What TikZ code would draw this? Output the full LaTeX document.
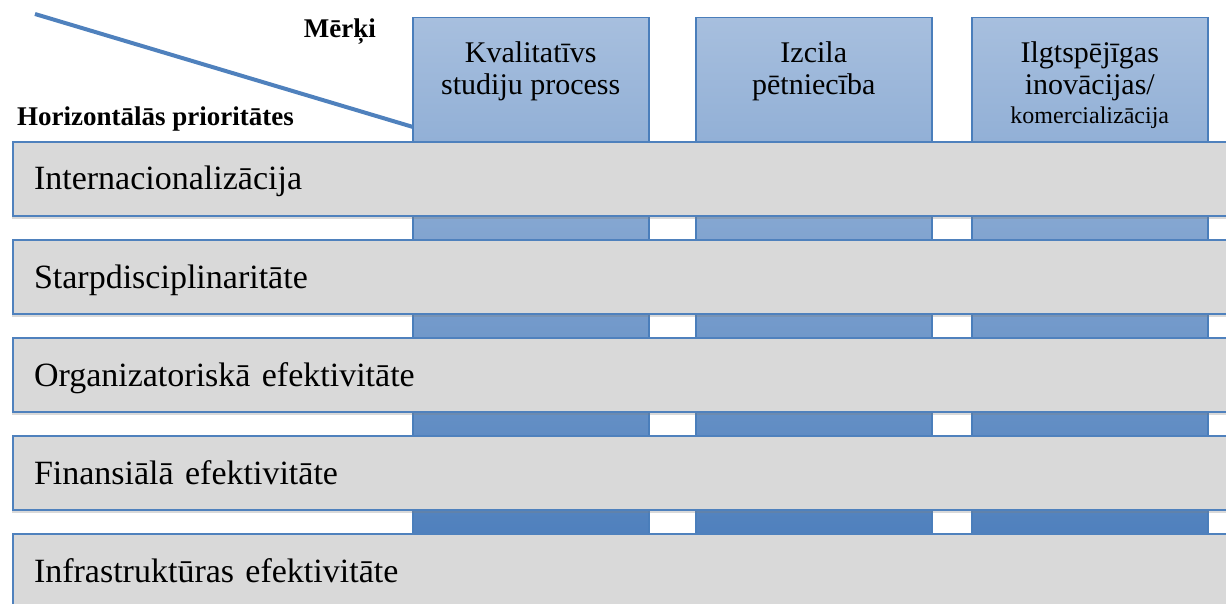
\documentclass[tikz,border=0pt]{standalone}
\usepackage{fontspec}
\setmainfont{Liberation Serif}
\usetikzlibrary{positioning, shadows}
\definecolor{bargray}{RGB}{217, 217, 217}
\definecolor{barline}{RGB}{79, 129, 189}
\definecolor{coltop}{RGB}{167, 191, 222}
\definecolor{colbottom}{RGB}{65, 118, 184}
\definecolor{colline}{RGB}{74, 126, 187}

\begin{document}
\begin{tikzpicture}[x=1pt, y=-1pt,
    column/.style={rectangle, draw=colline, line width=1.5pt, top color=coltop, bottom color=colbottom,
                   minimum width=236pt, minimum height=600pt, anchor=north west},
    headtext/.style={align=center, inner sep=0pt, font=\fontsize{30}{32}\selectfont},
    bar/.style={rectangle, draw=barline, line width=2pt, fill=bargray,
                drop shadow={shadow xshift=-1.5pt, shadow yshift=-3pt, opacity=0.3},
                minimum width=1240pt, minimum height=74pt, text width=1198pt, inner xsep=21pt,
                text height=22pt, text depth=0pt, align=left, anchor=north west,
                font=\fontsize{34}{40}\selectfont},
    axislabel/.style={inner sep=0pt, font=\bfseries\fontsize{27}{32}\selectfont}]

    \useasboundingbox (0,0) rectangle (1226,604);
    \clip (0,0) rectangle (1226,604);

    % Goals
    \node[column] (kval) at (412,17) {};
    \node[column] (izcila) at (695,17) {};
    \node[column] (ilgt) at (971,17) {};

    \node[headtext, below=24pt of kval.north] (kvaltext) {Kvalitatīvs\\studiju process};
    \node[headtext, below=24pt of izcila.north] (izcilatext) {Izcila\\pētniecība};
    \node[headtext, below=24pt of ilgt.north] (ilgttext)
        {Ilgtspējīgas\\inovācijas/\\[-3pt]{\fontsize{24}{28}\selectfont komercializācija}};

    % Horizontal priorities
    \node[bar] (internac) at (12,141) {Internacionalizācija};
    \node[bar] (starpdisc) at (12,239) {Starpdisciplinaritāte};
    \node[bar] (organiz) at (12,337) {Organizatoriskā efektivitāte};
    \node[bar] (finans) at (12,435) {Finansiālā efektivitāte};
    \node[bar] (infrastr) at (12,533) {Infrastruktūras efektivitāte};

    % Header diagonal
    \coordinate (diagstart) at (35,14);
    \coordinate (diagend) at (413,127);
    \draw[barline, line width=4pt] (diagstart) -- (diagend);

    \node[axislabel, anchor=base east] (merki) at (376,38) {Mērķi};
    \node[axislabel, anchor=base west] (horiz) at (17,126) {Horizontālās prioritātes};
\end{tikzpicture}
\end{document}
